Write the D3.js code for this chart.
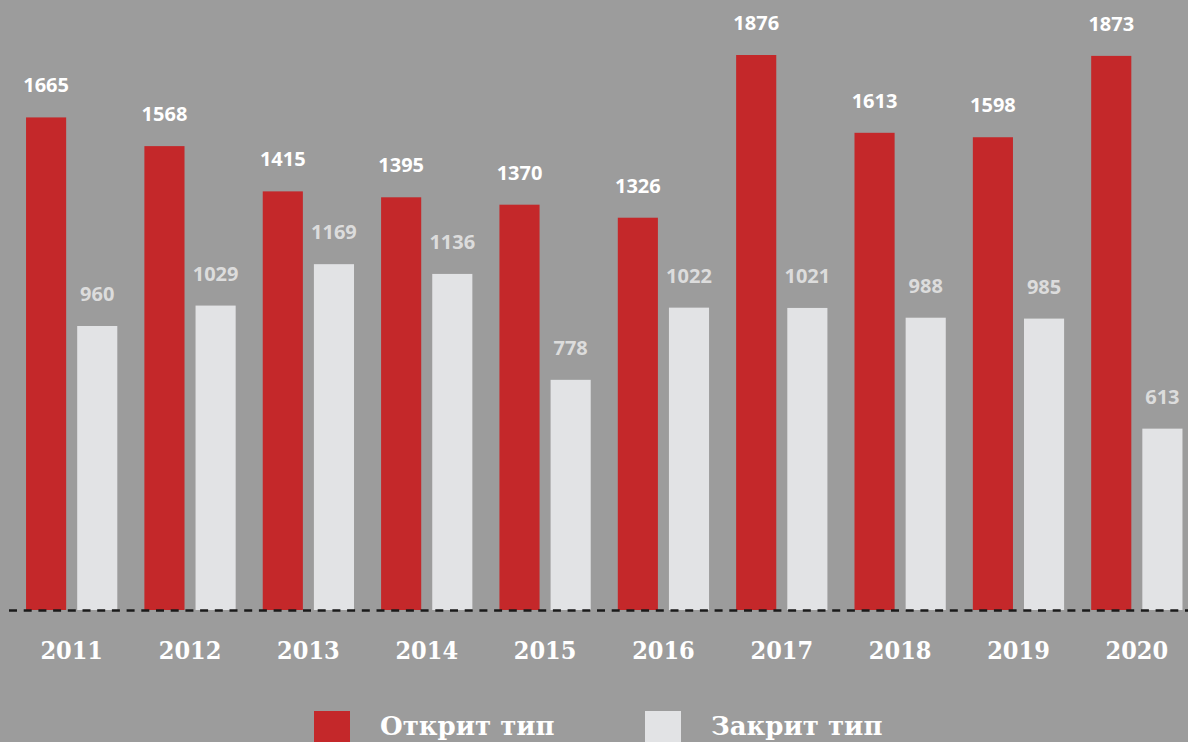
<!DOCTYPE html>
<html>
<head>
<meta charset="utf-8">
<script src="https://cdn.jsdelivr.net/npm/d3@7"></script>
<style>
  html, body { margin: 0; padding: 0; background: #9c9c9c; }
  svg { display: block; }
</style>
</head>
<body>
<div id="chart"></div>
<script>
const years = ['2011', '2012', '2013', '2014', '2015', '2016', '2017', '2018', '2019', '2020'];
const openType = [1665, 1568, 1415, 1395, 1370, 1326, 1876, 1613, 1598, 1873];
const closedType = [960, 1029, 1169, 1136, 778, 1022, 1021, 988, 985, 613];
const seriesNames = ['Открит тип', 'Закрит тип'];
const seriesKeys = ['open', 'closed'];
const colors = ['#c4282a', '#e2e3e5'];
const labelColors = ['#ffffff', '#dcdcdc'];

const width = 1188, height = 742;
const svg = d3.select('#chart').append('svg')
  .attr('width', width)
  .attr('height', height);

svg.append('rect').attr('width', width).attr('height', height).attr('fill', '#9c9c9c');

const rows = years.map((y, i) => ({ year: y, open: openType[i], closed: closedType[i] }));

const x0 = d3.scaleBand()
  .domain(years)
  .range([12.5, 1196])
  .paddingInner(27 / 118)
  .paddingOuter(27 / 236);

const x1 = d3.scaleBand()
  .domain(seriesKeys)
  .range([0, x0.bandwidth()])
  .paddingInner(11 / 51);

const y = d3.scaleLinear()
  .domain([0, 1876])
  .range([610, 55]);

const color = d3.scaleOrdinal().domain(seriesKeys).range(colors);
const labelColor = d3.scaleOrdinal().domain(seriesKeys).range(labelColors);

const groups = svg.append('g').selectAll('g')
  .data(rows)
  .join('g')
  .attr('transform', d => 'translate(' + x0(d.year) + ',0)');

groups.selectAll('rect')
  .data(d => seriesKeys.map(k => ({ key: k, value: d[k] })))
  .join('rect')
  .attr('x', d => x1(d.key))
  .attr('y', d => y(d.value))
  .attr('width', x1.bandwidth())
  .attr('height', d => y(0) - y(d.value))
  .attr('fill', d => color(d.key));

groups.selectAll('text.val')
  .data(d => seriesKeys.map(k => ({ key: k, value: d[k] })))
  .join('text')
  .attr('class', 'val')
  .attr('x', d => x1(d.key) + x1.bandwidth() / 2)
  .attr('y', d => y(d.value) - 25)
  .attr('text-anchor', 'middle')
  .attr('fill', d => labelColor(d.key))
  .style('font-family', '"Open Sans", sans-serif')
  .style('font-weight', 700)
  .style('font-size', '20px')
  .text(d => d.value);

// dashed baseline
svg.append('line')
  .attr('x1', 9).attr('x2', width)
  .attr('y1', y(0) + 0.5).attr('y2', y(0) + 0.5)
  .attr('stroke', '#1a1a1a')
  .attr('stroke-width', 2.5)
  .attr('stroke-dasharray', '8,6.7');

// year labels
const xAxis = d3.axisBottom(x0).tickSize(0).tickPadding(0);
const axisG = svg.append('g')
  .attr('transform', 'translate(0,659)')
  .call(xAxis);
axisG.select('.domain').remove();
axisG.selectAll('text')
  .attr('dy', 0)
  .attr('fill', '#ffffff')
  .style('font-family', '"DejaVu Serif Condensed", "DejaVu Serif", serif')
  .style('font-weight', 700)
  .style('font-size', '25px');

// legend
const legendX = [314, 645];
const legend = svg.append('g').selectAll('g')
  .data(seriesNames)
  .join('g')
  .attr('transform', (d, i) => 'translate(' + legendX[i] + ',711)');

legend.append('rect')
  .attr('width', 36)
  .attr('height', 36)
  .attr('fill', (d, i) => colors[i]);

legend.append('text')
  .attr('x', 66)
  .attr('y', 24)
  .attr('fill', '#ffffff')
  .style('font-family', '"DejaVu Serif", serif')
  .style('font-weight', 700)
  .style('font-size', '26px')
  .text(d => d);
</script>
</body>
</html>
